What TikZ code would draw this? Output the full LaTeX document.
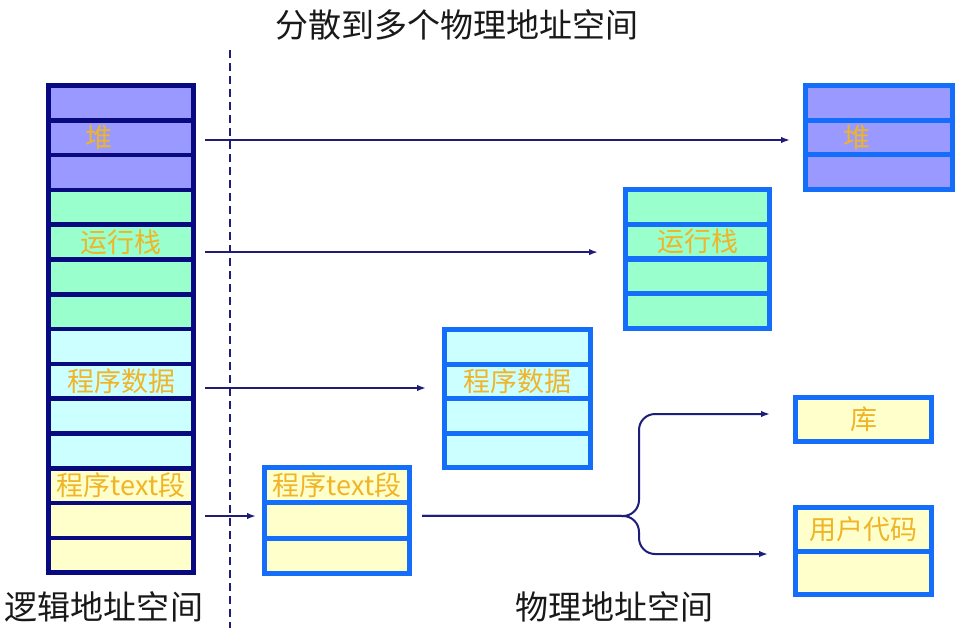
\documentclass[tikz,border=0pt]{standalone}
\usepackage{fontspec}
\setmainfont{Noto Sans CJK SC}
\usetikzlibrary{arrows.meta,calc}
\definecolor{navyB}{RGB}{10,10,128}
\definecolor{brightB}{RGB}{20,110,250}
\definecolor{heapF}{RGB}{153,153,255}
\definecolor{stackF}{RGB}{153,255,204}
\definecolor{dataF}{RGB}{204,255,255}
\definecolor{textF}{RGB}{255,255,204}
\definecolor{gold}{RGB}{240,180,40}
\definecolor{arrC}{RGB}{30,30,120}
\definecolor{ttlC}{RGB}{25,25,25}
\tikzset{
  cellbase/.style={rectangle, inner sep=0pt, outer sep=0pt, text=gold,
    font=\fontsize{27}{27}\selectfont},
  cellL/.style={cellbase, draw=navyB, line width=4.6pt, minimum width=145pt, minimum height=34.8pt},
  cellR/.style={cellbase, draw=brightB, line width=5pt},
  arr/.style={draw=arrC, line width=2pt, -{Latex[length=9pt,width=6.5pt]}},
  ttl/.style={text=ttlC, font=\fontsize{33}{33}\selectfont, inner sep=0pt},
  sepline/.style={draw=arrC, line width=2pt, dash pattern=on 8pt off 5pt}
}
\newcommand{\leftlbl}[1]{\hbox to 71pt{#1\hfil}}
\begin{document}
\begin{tikzpicture}[x=1pt,y=-1pt]
\useasboundingbox (0,0) rectangle (979,628);
\fill[white] (0,0) rectangle (979,628);

% dashed separator
\draw[sepline] (230,50) -- (230,628);

% logical address space column
\node[cellL, fill=heapF]  (L1)  at (121,102.9) {};
\node[cellL, fill=heapF]  (L2)  at (121,137.7) {\leftlbl{堆}};
\node[cellL, fill=heapF]  (L3)  at (121,172.5) {};
\node[cellL, fill=stackF] (L4)  at (121,207.3) {};
\node[cellL, fill=stackF] (L5)  at (121,242.1) {运行栈};
\node[cellL, fill=stackF] (L6)  at (121,276.9) {};
\node[cellL, fill=stackF] (L7)  at (121,311.7) {};
\node[cellL, fill=dataF]  (L8)  at (121,346.5) {};
\node[cellL, fill=dataF]  (L9)  at (121,381.3) {程序数据};
\node[cellL, fill=dataF]  (L10) at (121,416.1) {};
\node[cellL, fill=dataF]  (L11) at (121,450.9) {};
\node[cellL, fill=textF]  (L12) at (121,485.7) {程序text段};
\node[cellL, fill=textF]  (L13) at (121,520.5) {};
\node[cellL, fill=textF]  (L14) at (121,555.3) {};

% heap block
\tikzset{hp/.style={cellR, fill=heapF, minimum width=147pt, minimum height=34.7pt}}
\node[hp] (H1) at (879,102.85) {};
\node[hp] (H2) at (879,137.55) {\leftlbl{堆}};
\node[hp] (H3) at (879,172.25) {};

% stack block
\tikzset{sk/.style={cellR, fill=stackF, minimum width=144pt, minimum height=34.75pt}}
\node[sk] (S1) at (697.5,206.9) {};
\node[sk] (S2) at (697.5,241.6) {运行栈};
\node[sk] (S3) at (697.5,276.4) {};
\node[sk] (S4) at (697.5,311.1) {};

% data block
\tikzset{dt/.style={cellR, fill=dataF, minimum width=146pt, minimum height=34.5pt}}
\node[dt] (D1) at (517.5,346.75) {};
\node[dt] (D2) at (517.5,381.25) {程序数据};
\node[dt] (D3) at (517.5,415.75) {};
\node[dt] (D4) at (517.5,450.25) {};

% text block
\tikzset{tx/.style={cellR, fill=textF, minimum width=145pt, minimum height=35.3pt}}
\node[tx] (T1) at (337,485.15) {程序text段};
\node[tx] (T2) at (337,520.45) {};
\node[tx] (T3) at (337,555.75) {};

% library block
\node[cellR, fill=textF, minimum width=136pt, minimum height=44pt] (K1) at (863.5,419.5) {库};

% user code block
\tikzset{uc/.style={cellR, fill=textF, minimum width=136pt, minimum height=43.5pt}}
\node[uc] (U1) at (863.5,529.25) {用户代码};
\node[uc] (U2) at (863.5,572.75) {};

% arrows
\draw[arr] ($(L2.east)+(11.5,2.3)$) -- ($(L2.east -| H2.west)+(-15.5,2.3)$);
\draw[arr] ($(L5.east)+(11.5,10)$) -- ($(L5.east -| S2.west)+(-27.5,10)$);
\draw[arr] ($(L9.east)+(11.5,6.7)$) -- ($(L9.east -| D2.west)+(-18.5,6.7)$);
\draw[arr] ($(L13.east)+(11.5,-4.5)$) -- ($(L13.east -| T2.west)+(-8.5,-4.5)$);

% split connector
\coordinate (ts) at ($(T2.east)+(12.5,-4.5)$);
\coordinate (br) at (639,516);
\draw[arr, rounded corners=16pt] (ts) -- (br) |- ($(K1.west)+(-25.5,-5.5)$);
\draw[arr, rounded corners=16pt] (ts) -- (br) |- ($(U1.south west)+(-27.5,3)$);

% titles
\node[ttl] (title) at (457,25) {分散到多个物理地址空间};
\node[ttl] (lname) at (104,607) {逻辑地址空间};
\node[ttl] (pname) at (614,607) {物理地址空间};
\end{tikzpicture}
\end{document}
